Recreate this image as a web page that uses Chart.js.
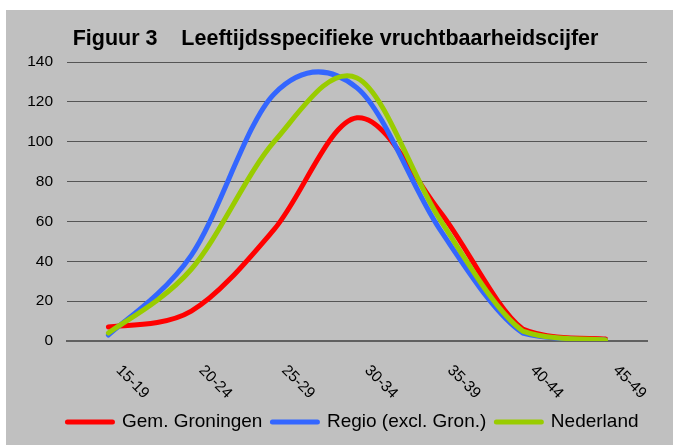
<!DOCTYPE html>
<html>
<head>
<meta charset="utf-8">
<script src="https://cdn.jsdelivr.net/npm/chart.js@4/dist/chart.umd.min.js"></script>
<style>
  html, body { margin: 0; padding: 0; background: #ffffff; }
  #wrap { position: absolute; left: 6px; top: 10px; width: 667px; height: 435px; background: #c0c0c0; }
  canvas { display: block; }
</style>
</head>
<body>
<div id="wrap"><canvas id="c" width="667" height="435"></canvas></div>
<script>
const titleText = 'Figuur 3    Leeftijdsspecifieke vruchtbaarheidscijfer';
const categories = ['15-19', '20-24', '25-29', '30-34', '35-39', '40-44', '45-49'];
const groningen = [7, 15, 56, 112, 65, 6, 1];
const regio = [3, 43, 124, 127, 56, 4, 0.5];
const nederland = [4, 36, 100, 132, 61, 5, 0.5];
const yTicks = [0, 20, 40, 60, 80, 100, 120, 140];

const FONT = '"Liberation Sans", Arial, sans-serif';

// Excel-like smoothing: Catmull-Rom style control points (1/6 of neighbour span), kept inside the plot
const excelSmooth = {
  id: 'excelSmooth',
  beforeDatasetsDraw(chart) {
    const area = chart.chartArea;
    const capY = v => Math.max(area.top, Math.min(area.bottom, v));
    chart.data.datasets.forEach((ds, di) => {
      const meta = chart.getDatasetMeta(di);
      const line = meta.dataset;
      if (!line) return;
      line.updateControlPoints(area, 'x');
      const pts = meta.data;
      for (let i = 0; i < pts.length; i++) {
        const p = pts[i];
        const prev = pts[i - 1] || p;
        const next = pts[i + 1] || p;
        const dx = (next.x - prev.x) / 6;
        const dy = (next.y - prev.y) / 6;
        p.cp1x = p.x - dx; p.cp1y = capY(p.y - dy);
        p.cp2x = p.x + dx; p.cp2y = capY(p.y + dy);
      }
    });
  }
};

const xLabelPlugin = {
  id: 'xLabels',
  afterDraw(chart) {
    const xs = chart.scales.x;
    const ctx = chart.ctx;
    ctx.save();
    ctx.font = '15.5px ' + FONT;
    ctx.fillStyle = '#000';
    ctx.textAlign = 'left';
    ctx.textBaseline = 'middle';
    categories.forEach((lab, i) => {
      const x = xs.getPixelForValue(i);
      ctx.save();
      ctx.translate(x + 10, chart.chartArea.bottom + 27);
      ctx.rotate(Math.PI / 4);
      ctx.fillText(lab, 0, 0);
      ctx.restore();
    });
    ctx.restore();
  }
};

const boxShift = {
  id: 'boxShift',
  afterLayout(chart) {
    if (chart.legend) { chart.legend.left += 26.5; chart.legend.right += 26.5; }
    if (chart.titleBlock) { chart.titleBlock.left += 18; }
  }
};

new Chart(document.getElementById('c'), {
  type: 'line',
  data: {
    labels: categories,
    datasets: [
      { label: 'Gem. Groningen', data: groningen, borderColor: '#ff0000', backgroundColor: '#ff0000', order: 3 },
      { label: 'Regio (excl. Gron.)', data: regio, borderColor: '#3366ff', backgroundColor: '#3366ff', order: 2 },
      { label: 'Nederland', data: nederland, borderColor: '#99cc00', backgroundColor: '#99cc00', order: 1 }
    ]
  },
  options: {
    responsive: false,
    animation: false,
    devicePixelRatio: 1,
    layout: { padding: { left: 0, right: 26, top: 0, bottom: 3.5 } },
    elements: {
      line: { borderWidth: 5, tension: 0.4, borderCapStyle: 'round', borderJoinStyle: 'round', fill: false },
      point: { radius: 0, hoverRadius: 0 }
    },
    plugins: {
      title: {
        display: true,
        text: titleText,
        color: '#000',
        font: { family: FONT, size: 21.5, weight: 'bold' },
        padding: { top: 16, bottom: 10.2 }
      },
      legend: {
        position: 'bottom',
        labels: {
          usePointStyle: true,
          pointStyle: 'line',
          pointStyleWidth: 45,
          boxHeight: 19,
          padding: 10,
          color: '#000',
          font: { family: FONT, size: 19 },
          sort: (a, b) => a.datasetIndex - b.datasetIndex,
          generateLabels(chart) {
            const items = Chart.defaults.plugins.legend.labels.generateLabels(chart);
            items.forEach(it => {
              const ds = chart.data.datasets[it.datasetIndex];
              it.lineWidth = 5;
              it.lineCap = 'round';
              it.strokeStyle = ds.borderColor;
              it.fillStyle = ds.borderColor;
            });
            return items;
          }
        }
      },
      tooltip: { enabled: false }
    },
    scales: {
      x: {
        type: 'category',
        offset: true,
        grid: { display: false, drawTicks: false },
        border: { display: true, color: '#606060', width: 2 },
        ticks: { display: false },
        afterFit(scale) { scale.height = 61.5; }
      },
      y: {
        min: 0,
        max: 140,
        afterBuildTicks(scale) { scale.ticks = yTicks.map(v => ({ value: v })); },
        grid: { color: '#555555', lineWidth: 1, drawTicks: false },
        border: { display: false },
        ticks: { color: '#000', padding: 14, font: { family: FONT, size: 15.5 } },
        afterFit(scale) { scale.width = 61; }
      }
    }
  },
  plugins: [excelSmooth, xLabelPlugin, boxShift]
});
</script>
</body>
</html>
